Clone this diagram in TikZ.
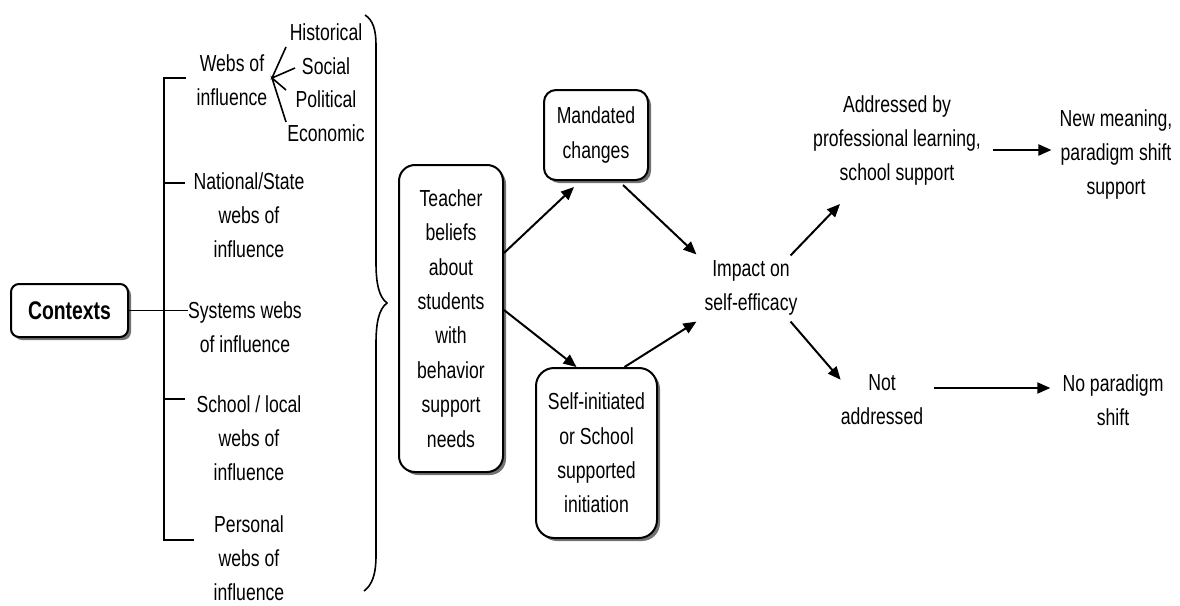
\documentclass[tikz,border=0pt]{standalone}
\usepackage{fontspec}
\setmainfont{Liberation Sans}[FakeStretch=0.76]
\usetikzlibrary{arrows.meta,shadows,calc}
\begin{document}
\begin{tikzpicture}[x=1pt,y=-1pt,
  txt/.style={inner sep=0pt, align=center, font=\fontsize{23.2}{34}\selectfont},
  boxx/.style={draw, line width=2pt, fill=white, inner sep=0pt, align=center,
    font=\fontsize{23.2}{34.4}\selectfont,
    drop shadow={shadow xshift=3pt, shadow yshift=-3pt, fill=black!55, opacity=1}},
  arr/.style={line width=2pt, -{Triangle[length=13pt,width=11pt]}},
  thin/.style={line width=1.6pt},
  ]
\useasboundingbox (0,0) rectangle (1180,605);

% boxes
\node[boxx, rounded corners=8pt, minimum width=117pt, minimum height=53pt,
  font=\fontsize{25.5}{30}\selectfont\bfseries] (ctx) at (69.5,310.5) {Contexts};
\node[boxx, rounded corners=16pt, minimum width=104pt, minimum height=307pt] (teacher) at (451,318.5)
  {Teacher\\beliefs\\about\\students\\with\\behavior\\support\\needs};
\node[boxx, rounded corners=12pt, minimum width=104pt, minimum height=90pt] (mand) at (596,135)
  {Mandated\\changes};
\node[boxx, rounded corners=18pt, minimum width=121pt, minimum height=170pt] (self) at (596.5,453)
  {Self-initiated\\or School\\supported\\initiation};

% context texts
\node[txt] (webs) at (232,80) {Webs of\\influence};
\node[txt] (hist) at (326,32) {Historical};
\node[txt] (soc) at (326,66) {Social};
\node[txt] (pol) at (326,99) {Political};
\node[txt] (eco) at (326,133) {Economic};
\node[txt] (nat) at (249,215) {National/State\\webs of\\influence};
\node[txt] (sys) at (245,327) {Systems webs\\of influence};
\node[txt] (sch) at (249,438) {School / local\\webs of\\influence};
\node[txt] (per) at (249,558) {Personal\\webs of\\influence};

% right side texts
\node[txt] (imp) at (751,288) {Impact on\\self-efficacy};
\node[txt] (addr) at (897,140) {Addressed by\\professional learning,\\school support};
\node[txt] (newm) at (1116,154) {New meaning,\\paradigm shift\\support};
\node[txt] (nota) at (882,400) {Not\\addressed};
\node[txt] (nop) at (1113,400) {No paradigm\\shift};

% bracket
\coordinate (bt) at (164,78);
\coordinate (bb) at (164,540);
\draw[thin] ($(webs.west)+(-11,-2)$) -- (bt) -- (bb) -- ($(bb)+(30,0)$);
\draw[thin] (164,183) -- (185,183);
\draw[thin] (164,399) -- (185,399);
\draw[thin] (ctx.east) -- (ctx.east -| sys.west);

% fan
\coordinate (fan) at (272,78);
\draw[thin] (286,47) -- (fan) -- (295,68);
\draw[thin] (286,90) -- (fan) -- (286,122);

% brace
\draw[thin] (365,15) .. controls (373,20) and (376,30) .. (376,45) -- (376,262)
  .. controls (376,284) and (379,297) .. (387,303)
  .. controls (379,309) and (376,322) .. (376,344) -- (376,555)
  .. controls (376,575) and (372,585) .. (364,591);

% arrows
\draw[arr] ($(teacher.north east)+(0,89)$) -- ($(mand.south)+(-22,6)$);
\draw[arr] ($(teacher.north east)+(0,146)$) -- ($(self.north)+(-20,0)$);
\draw[arr] ($(mand.south)+(27,4)$) -- ($(imp.north west)+(-8,-6)$);
\draw[arr] ($(self.north)+(28,0)$) -- ($(imp.south west)+(-8,6)$);
\draw[arr] ($(imp.north east)+(-7,-5)$) -- ($(addr.south west)+(27,19)$);
\draw[arr] ($(imp.south east)+(-7,6)$) -- ($(nota.north west)+(0,5)$);
\draw[arr] ($(addr.east)+(12,10)$) -- ($(newm.west)+(-8,-4)$);
\draw[arr] ($(nota.east)+(11,-12)$) -- ($(nop.west)+(-12,-12)$);
\end{tikzpicture}
\end{document}
